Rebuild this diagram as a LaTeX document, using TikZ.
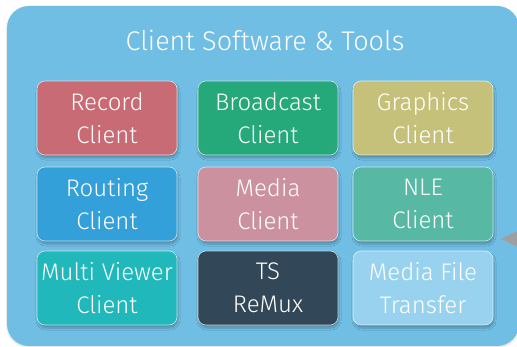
\documentclass[tikz,border=0pt]{standalone}
\usepackage{fontspec}
\setmainfont{Fira Sans}[UprightFont=* Light]
\usetikzlibrary{arrows.meta,shadows.blur}

\definecolor{panelblue}{HTML}{70BEE4}
\definecolor{recordred}{HTML}{C86B74}
\definecolor{castgreen}{HTML}{25A97B}
\definecolor{gfxolive}{HTML}{C6C17A}
\definecolor{routeblue}{HTML}{33A0DA}
\definecolor{mediapink}{HTML}{CC919E}
\definecolor{nlegreen}{HTML}{57B9A3}
\definecolor{viewerteal}{HTML}{21B8BC}
\definecolor{remuxslate}{HTML}{324858}
\definecolor{transferblue}{HTML}{98D2EE}

\tikzset{
  client/.style={shape=rectangle,rounded corners=8pt,draw=white,draw opacity=0.7,line width=0.6pt,
    minimum width=140pt,minimum height=74pt,inner sep=1pt,align=center,text=white,
    font=\fontsize{24}{33}\selectfont,
    blur shadow={shadow xshift=1pt,shadow yshift=-3pt,shadow opacity=25,shadow blur steps=6}},
}

\begin{document}
\begin{tikzpicture}[x=1pt,y=-1pt]
                \useasboundingbox (0,0) rectangle (517,347);
                \node[shape=rectangle,rounded corners=22pt,fill=panelblue,minimum width=512pt,minimum height=340pt,
                      blur shadow={shadow xshift=0pt,shadow yshift=-1pt,shadow opacity=15}](panel)at(263, 176){};
                \node[text=white,font=\fontsize{27}{32}\selectfont](title)at(265, 40){Client Software \& Tools};
                % row 1
                \node[client,fill=recordred](record)at(107, 118){Record\\Client};
                \node[client,fill=castgreen](broadcast)at(268, 118){Broadcast\\Client};
                \node[client,fill=gfxolive](graphics)at(423, 118){Graphics\\Client};
                % row 2
                \node[client,fill=routeblue](routing)at(107, 204){Routing\\Client};
                \node[client,fill=mediapink](media)at(268, 204){Media\\Client};
                \node[client,fill=nlegreen](nle)at(423, 204){NLE\\Client};
                % row 3
                \node[client,fill=viewerteal](viewer)at(107, 288){Multi Viewer\\Client};
                \node[client,fill=remuxslate](remux)at(268, 288){TS\\ReMux};
                \node[client,fill=transferblue](transfer)at(423, 288){Media File\\Transfer};
                % incoming link from the right
                \coordinate(feed)at(560, 239);
                \coordinate(feedend)at(501, 239);
                \draw[draw=gray!75,fill=gray!75,line width=1pt,-{Triangle[length=16pt,width=15pt]}](feed) -- (feedend);
\end{tikzpicture}
\end{document}
